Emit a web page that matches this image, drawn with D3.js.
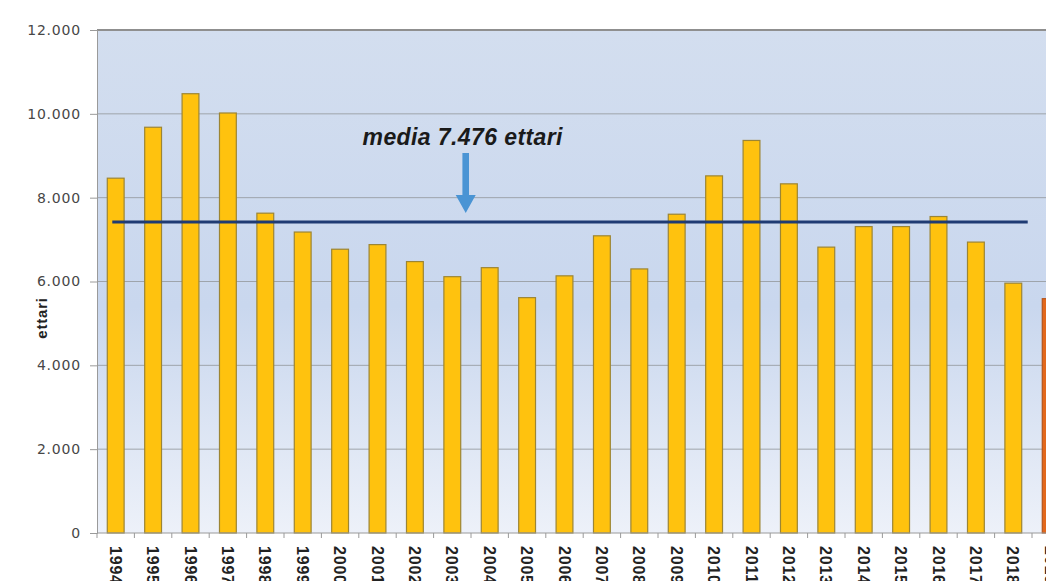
<!DOCTYPE html>
<meta charset="utf-8">
<style>
body { margin: 0; background: #fff; }
svg { display: block; }
.y.axis text { font: 14px "DejaVu Sans", sans-serif; fill: #474747; letter-spacing: 0.8px; }
.x.axis text { font: bold 16px "Liberation Sans", Arial, sans-serif; fill: #222; letter-spacing: 0.8px; }
.axis path, .axis line { stroke: #9a9a9a; }
.grid line { stroke: #9ea4ab; stroke-width: 1; }
</style>
<body>
<script src="https://cdn.jsdelivr.net/npm/d3@7"></script>
<script>

// ===== data =====
var years = ["1994","1995","1996","1997","1998","1999","2000","2001","2002","2003",
             "2004","2005","2006","2007","2008","2009","2010","2011","2012","2013",
             "2014","2015","2016","2017","2018","2019"];
var ettari = [8465, 9680, 10480, 10020, 7630, 7180, 6770, 6880, 6475, 6115,
              6330, 5615, 6135, 7090, 6300, 7605, 8520, 9365, 8330, 6820,
              7310, 7310, 7550, 6940, 5960, 5590];
var yTicks = [0, 2000, 4000, 6000, 8000, 10000, 12000];
var mediaLabel = "media 7.476 ettari";
var mediaLevel = 7420;   // where the line is actually drawn in the picture
var yLabel = "ettari";

var W = 1046, H = 581;
var mLeft = 97, mTop = 30, mBottom = 533;
var step = 37.4;

var svg = d3.select("body").append("svg").attr("width", W).attr("height", H);

var x = d3.scaleBand().domain(years)
    .range([mLeft, mLeft + step * years.length])
    .paddingInner(0.55).paddingOuter(0.275);
var y = d3.scaleLinear().domain([0, 12000]).range([mBottom, mTop]);

// plot background gradient
var defs = svg.append("defs");
var grad = defs.append("linearGradient").attr("id", "bg").attr("x1", 0).attr("y1", 0).attr("x2", 0).attr("y2", 1);
grad.append("stop").attr("offset", "0%").attr("stop-color", "#d3deef");
grad.append("stop").attr("offset", "55%").attr("stop-color", "#c9d7ee");
grad.append("stop").attr("offset", "100%").attr("stop-color", "#edf1f9");

svg.append("rect")
    .attr("x", mLeft).attr("y", mTop)
    .attr("width", W - mLeft).attr("height", mBottom - mTop)
    .attr("fill", "url(#bg)");

// gridlines
svg.append("g").attr("class", "grid")
    .selectAll("line").data(yTicks.slice(1)).enter().append("line")
    .attr("x1", mLeft).attr("x2", W)
    .attr("y1", function(d){ return y(d); }).attr("y2", function(d){ return y(d); });

// top border a bit heavier
svg.append("line").attr("x1", mLeft).attr("x2", W)
    .attr("y1", y(12000)).attr("y2", y(12000))
    .attr("stroke", "#8f8f8f").attr("stroke-width", 2);

// bars
svg.append("g").selectAll("rect")
    .data(years).enter().append("rect")
    .attr("x", function(d){ return x(d); })
    .attr("y", function(d, i){ return y(ettari[i]); })
    .attr("width", x.bandwidth())
    .attr("height", function(d, i){ return y(0) - y(ettari[i]); })
    .attr("fill", function(d){ return d === "2019" ? "#e2681c" : "#ffc20e"; })
    .attr("stroke", function(d){ return d === "2019" ? "#b5551c" : "#9c8534"; })
    .attr("stroke-width", 1.2);

// y axis
var itFormat = d3.formatLocale({decimal: ",", thousands: ".", grouping: [3], currency: ["", "€"]}).format(",");
var yAxisG = svg.append("g").attr("class", "y axis")
    .attr("transform", "translate(" + mLeft + ",0)")
    .call(d3.axisLeft(y).tickValues(yTicks).tickFormat(itFormat).tickSize(7).tickPadding(9));
yAxisG.select(".domain").attr("stroke", "#b8c2cf");

// x axis
var xAxisG = svg.append("g").attr("class", "x axis")
    .attr("transform", "translate(0," + mBottom + ")");
xAxisG.append("line").attr("x1", mLeft).attr("x2", W).attr("stroke", "#9a9a9a");
xAxisG.selectAll(".tk").data(d3.range(years.length + 1)).enter().append("line")
    .attr("x1", function(i){ return mLeft + i * x.step(); })
    .attr("x2", function(i){ return mLeft + i * x.step(); })
    .attr("y1", 0).attr("y2", 5).attr("stroke", "#9a9a9a");
xAxisG.selectAll("text").data(years).enter().append("text")
    .attr("transform", function(d){ return "translate(" + (x(d) + x.bandwidth() / 2 - 6) + ",13) rotate(90)"; })
    .attr("text-anchor", "start")
    .text(function(d){ return d; });

// y label
svg.append("text")
    .attr("transform", "translate(47,318) rotate(-90)")
    .attr("text-anchor", "middle")
    .style("font", "bold 15px 'Liberation Sans', Arial, sans-serif")
    .style("letter-spacing", "0.8px")
    .style("fill", "#222")
    .text(yLabel);

// media line
svg.append("line")
    .attr("x1", x("1994") + 5).attr("x2", x("2018") + x.bandwidth() + 6)
    .attr("y1", y(mediaLevel)).attr("y2", y(mediaLevel))
    .attr("stroke", "#1f3b73").attr("stroke-width", 3);

// label and arrow
var ax = x("2003") + x.bandwidth() + 5;
svg.append("text")
    .attr("x", ax - 3).attr("y", 145)
    .attr("text-anchor", "middle")
    .style("font", "italic bold 23px 'Liberation Sans', Arial, sans-serif")
    .style("letter-spacing", "0.4px")
    .style("fill", "#1a1a1a")
    .text(mediaLabel);

var tipY = y(mediaLevel) - 9;
svg.append("path")
    .attr("d", "M" + (ax - 3.3) + ",153 L" + (ax + 3.3) + ",153 L" + (ax + 3.3) + "," + (tipY - 18) +
               " L" + (ax + 10) + "," + (tipY - 18) + " L" + ax + "," + tipY +
               " L" + (ax - 10) + "," + (tipY - 18) + " L" + (ax - 3.3) + "," + (tipY - 18) + " Z")
    .attr("fill", "#4a94d4");

</script>
</body>
